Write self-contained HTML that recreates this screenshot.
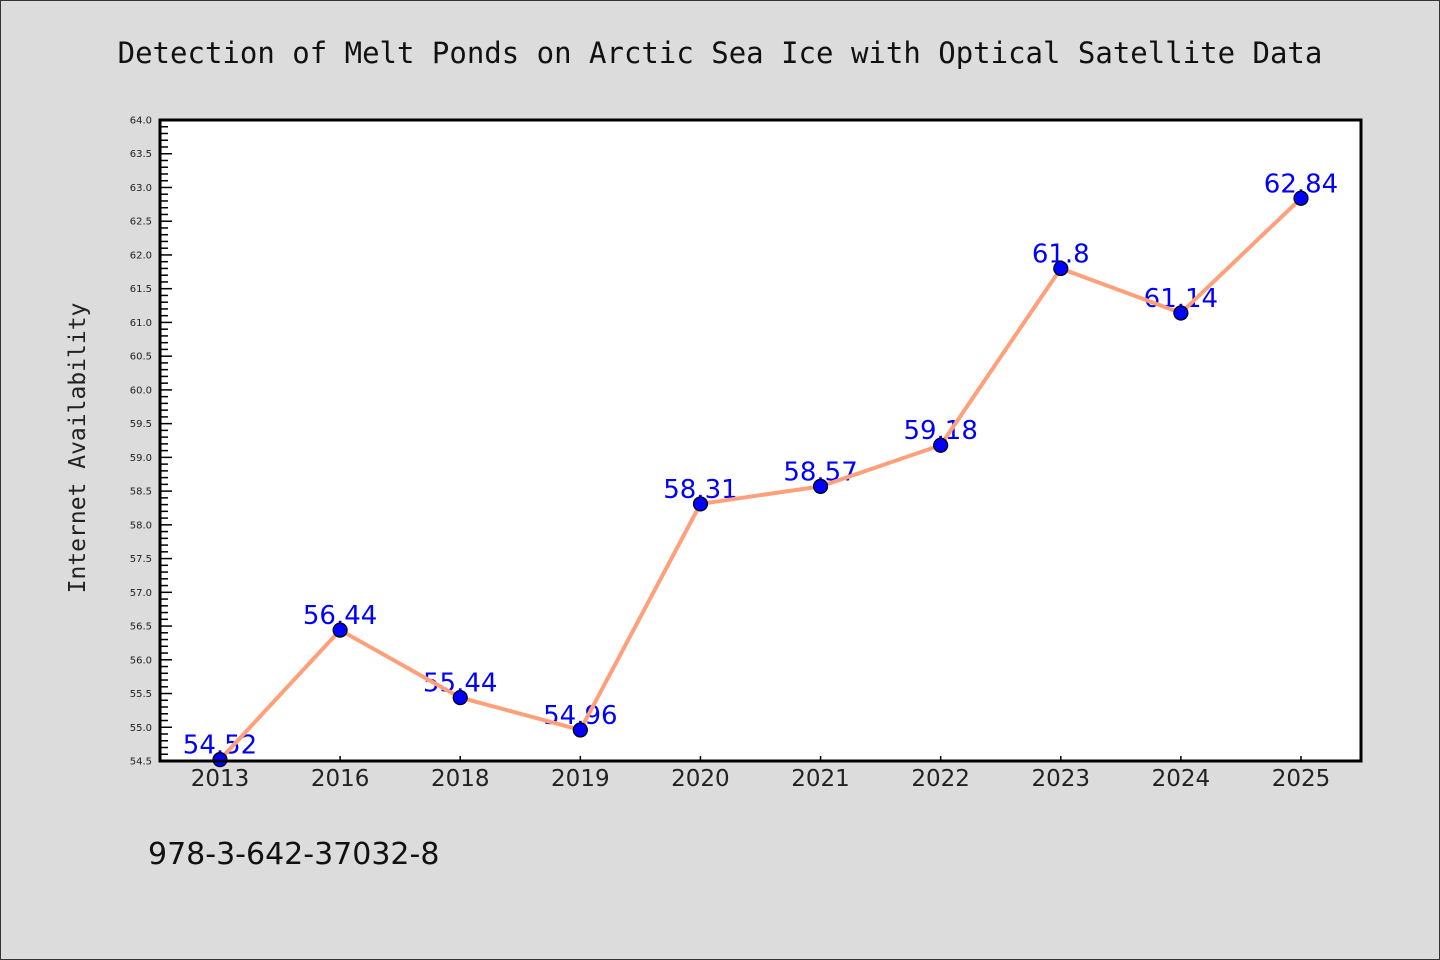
<!DOCTYPE html>
<html><head><meta charset="utf-8"><style>
html,body{margin:0;padding:0;background:#dcdcdc;}
svg{display:block;}
</style></head><body>
<svg id="chart" width="1440" height="960" xmlns="http://www.w3.org/2000/svg">
<rect x="0.5" y="0.5" width="1439" height="959" fill="#dcdcdc" stroke="#333"/>
<text x="720" y="63" text-anchor="middle" font-family="'DejaVu Sans Mono','Liberation Mono',monospace" font-size="29" fill="#111">Detection of Melt Ponds on Arctic Sea Ice with Optical Satellite Data</text>
<rect x="160" y="120" width="1201" height="641" fill="#fff"/>
<g id="yticks"></g><g id="xticks"></g><g id="labels"></g><g id="series"></g>
<rect x="160" y="120" width="1201" height="641" fill="none" stroke="#000" stroke-width="3"/>
<text transform="translate(85,448) rotate(-90)" text-anchor="middle" font-family="'DejaVu Sans Mono','Liberation Mono',monospace" font-size="23" fill="#222">Internet Availability</text>
<text x="148" y="864" font-family="'DejaVu Sans','Liberation Sans',sans-serif" font-size="30" fill="#111">978-3-642-37032-8</text>
</svg>
<script>
const categories=["2013","2016","2018","2019","2020","2021","2022","2023","2024","2025"];
const values=[54.52,56.44,55.44,54.96,58.31,58.57,59.18,61.8,61.14,62.84];
const valueLabels=["54.52","56.44","55.44","54.96","58.31","58.57","59.18","61.8","61.14","62.84"];
const yMin=54.5, yMax=64.0;
const L=160,R=1361,T=120,B=761;
const NS="http://www.w3.org/2000/svg";
function y(v){return B-(v-yMin)/(yMax-yMin)*(B-T);}
function x(i){return L+60+i*(R-L-120)/(categories.length-1);}
function mk(tag,attrs,parent){const e=document.createElementNS(NS,tag);for(const k in attrs)e.setAttribute(k,attrs[k]);parent.appendChild(e);return e;}
const yt=document.getElementById('yticks');
for(let k=0;k<=Math.round((yMax-yMin)*10);k++){
  const v=yMin+k*0.1, major=k%5===0, yy=y(v);
  const t=mk('line',{x1:L,x2:L+(major?12:8),y1:yy,y2:yy,stroke:'#000','stroke-width':1.5},yt);
  
  
  if(major){
    const lb=mk('text',{x:L-8,y:yy+3.5,'text-anchor':'end','font-family':"'DejaVu Sans','Liberation Sans',sans-serif",'font-size':10,fill:'#222'},yt);
    lb.textContent=v.toFixed(1);
    
    
  }
}
const xt=document.getElementById('xticks');
categories.forEach((c,i)=>{
  const t=mk('line',{x1:x(i),x2:x(i),y1:B,y2:B-5,stroke:'#000','stroke-width':1.5},xt);
  
  
  const lb=mk('text',{x:x(i),y:B+25,'text-anchor':'middle','font-family':"'DejaVu Sans','Liberation Sans',sans-serif",'font-size':23,fill:'#222'},xt);
  lb.textContent=c;
  
  
});
const lg=document.getElementById('labels');
values.forEach((v,i)=>{
  const lb=mk('text',{x:x(i),y:y(v)-6,'text-anchor':'middle','font-family':"'DejaVu Sans','Liberation Sans',sans-serif",'font-size':26,fill:'#0000ff'},lg);
  lb.textContent=valueLabels[i];
  
  
});
const sg=document.getElementById('series');
const line=mk('polyline',{points:values.map((v,i)=>x(i)+','+y(v)).join(' '),fill:'none',stroke:'#ffa07a','stroke-width':4,'stroke-linejoin':'round'},sg);


values.forEach((v,i)=>{
  const c=mk('circle',{cx:x(i),cy:y(v),r:7,fill:'#0000ff',stroke:'#000','stroke-width':1.2},sg);
  
  
});
</script>
</body></html>
